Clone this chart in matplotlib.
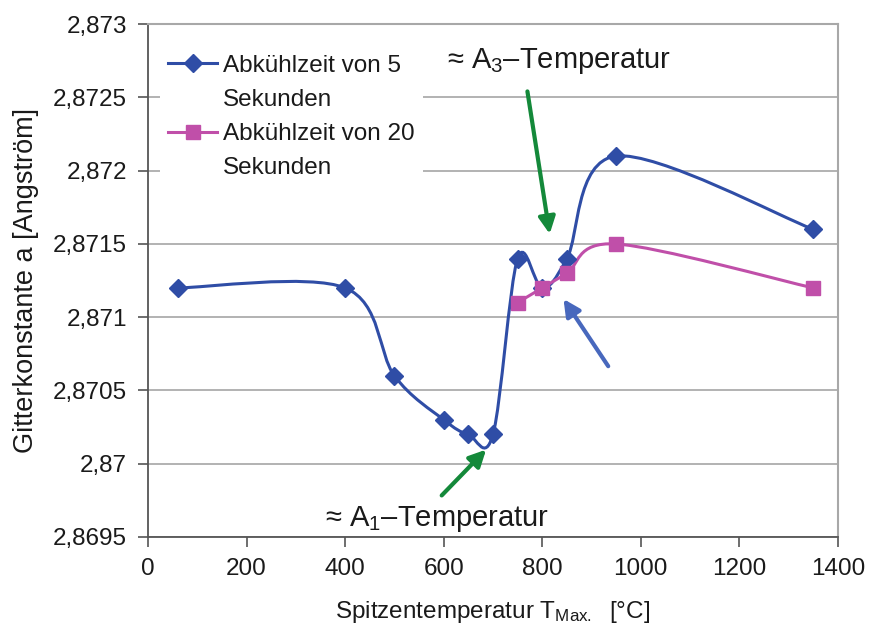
import numpy as np
import matplotlib
matplotlib.use('Agg')
import matplotlib.pyplot as plt
from matplotlib.path import Path
from matplotlib.patches import PathPatch
from matplotlib.lines import Line2D
from matplotlib.ticker import FuncFormatter, MultipleLocator

plt.rcParams['font.family'] = ['Liberation Sans', 'DejaVu Sans']
plt.rcParams['mathtext.fontset'] = 'custom'
plt.rcParams['mathtext.rm'] = 'Liberation Sans'
plt.rcParams['mathtext.default'] = 'regular'

# Daten
temp_5s = [60, 400, 500, 600, 650, 700, 750, 800, 850, 950, 1350]
gitter_5s = [2.8712, 2.8712, 2.8706, 2.8703, 2.8702, 2.8702, 2.8714, 2.8712, 2.8714, 2.8721, 2.8716]
temp_20s = [750, 800, 850, 950, 1350]
gitter_20s = [2.8711, 2.8712, 2.8713, 2.8715, 2.8712]

label_5s = ['Abkühlzeit von 5', 'Sekunden']
label_20s = ['Abkühlzeit von 20', 'Sekunden']

blau = '#2f4da6'
rosa = '#c04fa9'
gruen = '#14893a'
blau_pfeil = '#4868bd'


def glatte_kurve(x, y):
    # Bezier-Glaettung wie in Excel (Catmull-Rom Kontrollpunkte)
    p = np.column_stack([x, y]).astype(float)
    n = len(p)
    verts = [p[0]]
    codes = [Path.MOVETO]
    for i in range(n - 1):
        p0 = p[i - 1] if i > 0 else p[i]
        p3 = p[i + 2] if i + 2 < n else p[i + 1]
        c1 = p[i] + (p[i + 1] - p0) / 6.0
        c2 = p[i + 1] - (p3 - p[i]) / 6.0
        verts += [c1, c2, p[i + 1]]
        codes += [Path.CURVE4] * 3
    return Path(verts, codes)


fig = plt.figure(figsize=(8.71, 6.37), dpi=100)
ax = fig.add_axes([0.170, 0.157, 0.792, 0.805])

ax.add_patch(PathPatch(glatte_kurve(temp_5s, gitter_5s), fill=False, ec=blau, lw=2.2, zorder=3))
ax.add_patch(PathPatch(glatte_kurve(temp_20s, gitter_20s), fill=False, ec=rosa, lw=2.2, zorder=3))
ax.plot(temp_5s, gitter_5s, ls='none', marker='D', ms=9.5, color=blau, zorder=4)
ax.plot(temp_20s, gitter_20s, ls='none', marker='s', ms=10, color=rosa, zorder=5)

ax.set_xlim(0, 1400)
ax.set_ylim(2.8695, 2.873)
ax.xaxis.set_major_locator(MultipleLocator(200))
ax.yaxis.set_major_locator(MultipleLocator(0.0005))
ax.yaxis.set_major_formatter(FuncFormatter(
    lambda v, pos: ('%.4f' % v).rstrip('0').rstrip('.').replace('.', ',')))
ax.grid(axis='y', color='#a6a6a6', lw=1.2)
ax.set_axisbelow(True)

for s in ['top', 'right']:
    ax.spines[s].set_color('#a8a8a8')
    ax.spines[s].set_linewidth(1.5)
for s in ['left', 'bottom']:
    ax.spines[s].set_color('#555555')
    ax.spines[s].set_linewidth(1.3)
ax.tick_params(direction='out', length=7, width=1.2, color='#555555',
               labelsize=17.5, labelcolor='#1a1a1a', pad=8)

ax.set_xlabel('Spitzentemperatur T$_{Max.}$  [°C]', fontsize=17.5, color='#1a1a1a', labelpad=14)
ax.set_ylabel('Gitterkonstante a [Angström]', fontsize=19.5, color='#1a1a1a', labelpad=10)

# Legende: zweite Zeile jedes Eintrags ohne Symbol
leer = Line2D([], [], color='none')
handles = [Line2D([], [], color=blau, lw=2.2, marker='D', ms=9.5), leer,
           Line2D([], [], color=rosa, lw=2.2, marker='s', ms=10), leer]
leg = ax.legend(handles, label_5s + label_20s, loc='upper left',
                bbox_to_anchor=(0.017, 0.957), frameon=True, fontsize=17.5,
                handlelength=2.0, handletextpad=0.25, labelspacing=0.5,
                borderaxespad=0.0, borderpad=0.35)
leg.get_frame().set_edgecolor('none')
leg.get_frame().set_facecolor('white')
leg.get_frame().set_alpha(1.0)
for t in leg.get_texts():
    t.set_color('#1a1a1a')

ax.text(607, 2.87275, '≈ A$_3$–Temperatur', fontsize=21, color='#1a1a1a', va='center', ha='left')
ax.text(359, 2.86962, '≈ A$_1$–Temperatur', fontsize=21, color='#1a1a1a', va='center', ha='left')

ax.annotate('', xy=(816, 2.87155), xytext=(769, 2.87256),
            arrowprops=dict(arrowstyle='-|>', color=gruen, lw=3, mutation_scale=25))
ax.annotate('', xy=(690, 2.87011), xytext=(592, 2.86977),
            arrowprops=dict(arrowstyle='-|>', color=gruen, lw=3, mutation_scale=25))
ax.annotate('', xy=(840, 2.87114), xytext=(937, 2.87065),
            arrowprops=dict(arrowstyle='-|>', color=blau_pfeil, lw=3, mutation_scale=25))

fig.savefig('out.png', dpi=100)
